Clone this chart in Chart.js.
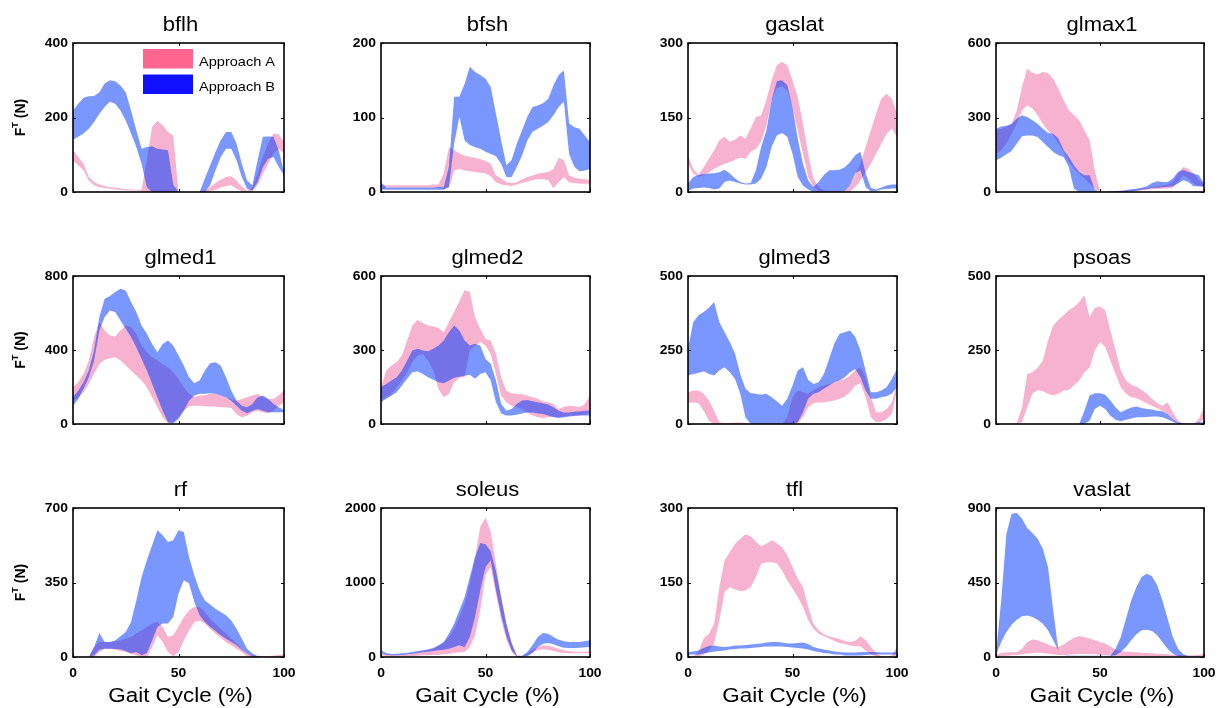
<!DOCTYPE html>
<html>
<head>
<meta charset="utf-8">
<script src="https://cdn.jsdelivr.net/npm/chart.js@4.4.1/dist/chart.umd.min.js"></script>
<style>
  html, body { margin: 0; padding: 0; background: #fff; width: 1223px; height: 708px; overflow: hidden; }
  #fig { position: relative; width: 1223px; height: 708px; }
  #fig canvas { position: absolute; }
</style>
</head>
<body>
<div id="fig"></div>
<script>
// Gait cycle sample points (%)
const gaitPct = [0,2.5,5,7.5,10,12.5,15,17.5,20,22.5,25,27.5,30,32.5,35,37.5,40,42.5,45,47.5,50,52.5,55,57.5,60,62.5,65,67.5,70,72.5,75,77.5,80,82.5,85,87.5,90,92.5,95,97.5,100];
const xTickValues = [0, 50, 100];
const seriesNames = ['Approach A', 'Approach B'];
const muscles = ['bflh','bfsh','gaslat','glmax1','glmed1','glmed2','glmed3','psoas','rf','soleus','tfl','vaslat'];

// y tick labels per muscle (N)
const bflhTicks = [0, 200, 400];
const bfshTicks = [0, 100, 200];
const gaslatTicks = [0, 150, 300];
const glmax1Ticks = [0, 300, 600];
const glmed1Ticks = [0, 400, 800];
const glmed2Ticks = [0, 300, 600];
const glmed3Ticks = [0, 250, 500];
const psoasTicks = [0, 250, 500];
const rfTicks = [0, 350, 700];
const soleusTicks = [0, 1000, 2000];
const tflTicks = [0, 150, 300];
const vaslatTicks = [0, 450, 900];

// Tendon force envelopes (lower / upper bound, N), Approach A and Approach B
const bflhAlo = [85,72,58,31,18,13,11,9,7,6,5,4,4,3,0,0,0,0,0,0,0,0,0,0,0,0,2,6,12,16,18,9,2,0,3,18,49,76,103,116,103];
const bflhAhi = [112,94,76,40,27,20,16,13,12,10,8,7,6,6,85,175,191,179,161,152,0,0,0,0,0,4,13,24,33,40,42,31,15,3,13,49,94,130,157,155,134];
const bflhBlo = [140,148,157,170,188,210,228,242,237,219,192,157,121,76,13,0,0,0,0,0,0,0,0,0,0,0,18,58,94,116,116,85,40,9,4,27,67,89,94,67,45];
const bflhBhi = [219,237,253,257,258,268,291,300,297,286,268,219,166,116,121,123,116,114,112,20,0,0,0,0,0,36,72,107,139,161,161,130,76,31,18,85,148,149,148,112,54];

const bfshAlo = [3,6,6,6,6,6,6,6,6,6,6,6,4,6,29,31,29,28,27,26,25,21,13,10,9,8,10,12,14,16,17,17,16,5,13,20,13,12,11,11,11];
const bfshAhi = [9,9,9,9,9,9,9,9,9,9,10,10,25,60,56,52,49,47,46,44,42,38,22,18,13,12,13,17,20,22,25,26,27,31,46,43,22,19,18,17,16];
const bfshBlo = [3,3,3,3,3,3,3,3,3,3,3,3,3,7,65,101,69,63,60,58,54,51,48,38,20,20,34,49,69,81,85,89,94,103,114,121,51,34,28,29,31];
const bfshBhi = [13,6,6,6,6,6,6,6,6,6,6,7,6,34,128,128,145,168,161,157,152,141,105,69,36,43,65,83,101,114,116,119,125,143,157,163,92,87,85,76,67];

const gaslatAlo = [57,37,30,34,40,47,52,57,60,65,69,67,81,87,101,134,185,210,213,205,171,124,77,30,10,2,0,0,0,0,0,1,10,23,40,57,77,97,117,128,111];
const gaslatAhi = [74,47,34,50,67,84,104,111,101,105,114,107,128,151,154,185,225,255,262,255,225,191,138,77,27,10,3,0,0,0,2,13,34,57,91,124,158,188,198,188,158];
const gaslatBlo = [2,7,8,9,8,5,7,20,23,20,17,15,15,17,27,50,91,114,119,111,77,30,13,5,0,0,0,0,0,0,2,13,37,44,10,1,2,5,6,7,7];
const gaslatBhi = [17,30,34,36,37,38,40,45,37,27,20,17,18,44,91,124,185,223,225,215,171,107,57,23,10,20,34,44,44,45,50,60,74,81,37,8,5,9,13,15,15];

const glmax1Alo = [154,168,195,235,275,329,349,336,309,275,248,228,195,161,121,94,74,54,36,13,0,0,0,0,0,1,3,5,7,9,11,12,13,14,17,40,67,54,34,23,20];
const glmax1Ahi = [248,255,262,272,329,423,497,479,474,483,479,456,416,369,329,309,289,248,208,87,0,0,1,2,3,5,7,10,13,16,20,23,27,30,40,74,101,94,74,47,34];
const glmax1Blo = [128,138,152,165,195,224,228,228,221,201,181,161,148,141,101,13,0,0,0,0,0,0,0,0,0,0,3,5,9,12,16,17,19,20,23,34,47,40,23,23,23];
const glmax1Bhi = [255,264,267,275,295,309,302,289,275,255,238,235,215,168,141,107,81,67,67,9,0,1,3,4,5,8,11,13,17,23,36,43,40,40,54,81,90,81,74,67,34];

const glmed1Alo = [126,144,172,217,271,325,347,356,361,343,316,289,262,235,199,144,90,36,4,9,36,72,94,99,99,96,94,94,90,90,87,54,36,45,63,72,63,58,72,99,117];
const glmed1Ahi = [199,226,271,343,470,551,506,479,473,506,533,524,488,424,388,361,343,325,307,280,244,199,163,144,154,154,163,163,154,144,135,126,135,144,154,163,144,135,135,154,181];
const glmed1Blo = [99,135,190,253,343,506,578,614,605,560,515,470,415,352,289,217,144,72,9,4,27,72,126,154,163,163,166,163,154,144,126,99,72,58,72,81,72,63,63,63,63];
const glmed1Bhi = [144,181,226,289,397,578,677,692,713,731,722,659,605,533,488,433,388,433,452,424,370,316,253,220,235,289,329,334,316,253,181,126,99,90,108,144,154,135,108,90,76];

const glmed2Alo = [95,108,122,149,176,210,250,278,284,257,217,142,108,122,169,187,190,298,318,332,318,284,203,115,88,74,68,61,47,34,27,24,27,30,27,30,32,34,34,37,47];
const glmed2Ahi = [149,217,237,250,278,339,399,422,409,399,395,390,372,413,454,498,542,535,433,386,345,339,284,190,135,125,122,122,115,108,102,92,88,81,61,70,74,72,68,81,115];
const glmed2Blo = [88,102,115,129,156,183,210,214,203,190,179,169,165,176,187,192,196,200,183,203,210,176,88,43,34,34,38,43,47,47,43,41,34,27,24,27,30,32,34,34,34];
const glmed2Bhi = [149,162,176,190,217,257,298,305,298,295,305,318,339,372,399,379,339,318,325,318,264,244,176,81,54,61,81,95,97,92,88,84,79,68,54,47,47,50,51,54,54];

const glmed3Alo = [73,73,70,45,11,0,0,0,0,0,0,0,0,0,0,0,0,0,0,0,0,2,23,56,70,73,73,76,79,85,93,107,130,138,90,23,6,8,17,34,113];
const glmed3Ahi = [107,113,113,102,79,45,6,3,3,5,5,3,0,0,0,0,0,0,0,23,90,113,107,102,113,124,130,135,141,147,152,164,181,192,158,90,40,40,51,73,135];
const glmed3Blo = [164,169,172,178,169,164,181,192,175,152,102,23,0,0,0,0,0,0,0,0,0,6,40,85,102,107,119,130,141,147,158,175,186,158,113,85,85,90,94,102,124];
const glmed3Bhi = [254,344,367,378,393,412,344,310,277,237,169,119,104,102,99,102,90,77,62,85,130,181,192,149,135,141,169,220,271,305,310,316,295,248,181,107,107,113,124,152,186];

const psoasAlo = [0,0,0,0,0,6,56,102,115,111,102,96,102,113,115,130,147,175,190,248,277,260,214,169,124,102,90,87,79,70,62,53,45,34,17,6,0,0,0,2,17];
const psoasAhi = [0,0,0,0,2,56,169,175,190,214,282,333,352,367,384,395,412,435,361,393,397,384,316,248,181,147,133,126,115,102,85,70,62,73,40,11,2,0,0,17,56];
const psoasBlo = [0,0,0,0,0,0,0,0,0,0,0,0,0,0,0,0,0,0,11,51,62,51,28,14,9,14,19,23,23,24,25,25,23,16,8,0,0,0,0,2,2];
const psoasBhi = [0,0,0,0,0,0,0,0,0,0,0,0,0,0,0,0,0,45,96,104,104,99,79,56,40,48,56,59,54,51,49,45,43,34,17,6,2,2,2,6,6];

const rfAlo = [0,0,0,0,0,23,39,39,34,28,23,16,8,0,0,47,102,70,23,3,23,78,125,164,172,157,133,110,91,70,55,39,23,3,0,0,0,0,0,0,0];
const rfAhi = [0,0,0,0,47,70,70,70,74,78,86,94,110,125,141,157,164,141,94,102,141,188,219,235,235,211,180,157,133,110,86,63,39,16,8,6,5,5,6,9,13];
const rfBlo = [0,0,0,0,8,34,39,39,38,36,28,16,23,8,19,78,141,157,157,188,298,360,345,258,196,164,141,122,102,86,70,55,34,16,3,0,0,0,0,0,0];
const rfBhi = [0,0,0,0,47,113,70,70,78,97,117,164,266,376,454,525,595,572,540,548,595,587,470,384,313,266,247,227,211,196,172,133,86,39,16,3,0,0,0,0,6];

const soleusAlo = [22,13,9,9,9,13,13,18,22,22,27,31,36,45,54,63,67,134,291,626,1096,1208,850,500,230,70,2,0,22,63,89,103,98,80,63,54,49,49,49,49,49];
const soleusAhi = [54,36,27,27,31,40,49,63,76,89,112,143,188,268,380,537,716,984,1342,1745,1870,1678,1250,800,430,190,25,9,45,98,134,157,152,134,112,89,80,72,72,72,76];
const soleusBlo = [54,31,22,22,27,36,45,54,63,72,80,89,98,112,134,157,134,268,537,895,1208,1297,900,560,280,90,5,0,9,54,134,179,188,170,143,125,121,121,125,130,134];
const soleusBhi = [89,54,40,45,49,58,67,80,89,103,121,157,201,313,447,626,805,1074,1342,1530,1512,1420,1150,800,450,180,15,18,67,157,268,322,313,268,233,210,201,201,201,210,224];

const tflAlo = [0,0,1,5,13,27,74,131,141,136,133,134,141,161,188,191,191,189,174,154,138,121,101,74,57,47,42,37,32,28,26,23,22,21,13,5,1,0,0,0,3];
const tflAhi = [0,1,10,37,47,67,141,195,211,228,238,247,243,232,223,228,235,229,221,205,181,158,141,101,67,54,46,42,39,36,32,30,32,42,34,20,8,1,0,3,20];
const tflBlo = [5,5,5,7,9,11,12,13,15,16,17,17,18,19,20,21,21,21,21,20,19,18,17,15,12,10,8,7,5,5,3,3,3,3,4,5,5,5,5,5,5];
const tflBhi = [10,11,13,18,22,23,21,20,21,23,23,24,25,26,27,29,30,30,29,27,27,28,29,26,20,17,15,13,11,10,9,9,9,10,10,10,10,9,9,9,10];

const vaslatAlo = [2,6,8,10,12,16,20,24,26,24,20,16,12,12,14,16,18,18,16,16,14,12,10,8,6,4,4,4,4,4,4,4,4,4,4,4,4,4,4,4,4];
const vaslatAhi = [10,24,28,28,28,50,91,105,101,89,76,64,60,76,97,117,125,121,111,101,91,81,64,44,36,32,30,28,26,24,22,20,18,16,14,12,10,10,10,12,20];
const vaslatBlo = [10,91,151,195,225,246,250,242,225,201,161,101,40,10,4,4,4,4,4,4,4,4,4,10,30,60,101,137,161,165,157,131,91,50,20,6,2,2,2,2,2];
const vaslatBhi = [20,342,745,866,870,835,779,749,715,654,544,282,40,10,8,8,8,8,8,8,8,8,8,50,121,231,342,423,483,503,487,433,342,231,121,50,16,4,4,4,4];

// Lookup table assembled from the arrays above
const panels = {
  bflh:   { ticks: bflhTicks,   A: [bflhAlo, bflhAhi],     B: [bflhBlo, bflhBhi] },
  bfsh:   { ticks: bfshTicks,   A: [bfshAlo, bfshAhi],     B: [bfshBlo, bfshBhi] },
  gaslat: { ticks: gaslatTicks, A: [gaslatAlo, gaslatAhi], B: [gaslatBlo, gaslatBhi] },
  glmax1: { ticks: glmax1Ticks, A: [glmax1Alo, glmax1Ahi], B: [glmax1Blo, glmax1Bhi] },
  glmed1: { ticks: glmed1Ticks, A: [glmed1Alo, glmed1Ahi], B: [glmed1Blo, glmed1Bhi] },
  glmed2: { ticks: glmed2Ticks, A: [glmed2Alo, glmed2Ahi], B: [glmed2Blo, glmed2Bhi] },
  glmed3: { ticks: glmed3Ticks, A: [glmed3Alo, glmed3Ahi], B: [glmed3Blo, glmed3Bhi] },
  psoas:  { ticks: psoasTicks,  A: [psoasAlo, psoasAhi],   B: [psoasBlo, psoasBhi] },
  rf:     { ticks: rfTicks,     A: [rfAlo, rfAhi],         B: [rfBlo, rfBhi] },
  soleus: { ticks: soleusTicks, A: [soleusAlo, soleusAhi], B: [soleusBlo, soleusBhi] },
  tfl:    { ticks: tflTicks,    A: [tflAlo, tflAhi],       B: [tflBlo, tflBhi] },
  vaslat: { ticks: vaslatTicks, A: [vaslatAlo, vaslatAhi], B: [vaslatBlo, vaslatBhi] }
};

// Page geometry (plot-area edges in page pixels)
const colLeft = [73, 381, 688, 996];
const colRight = [284, 590, 897, 1204];
const rowTop = [43, 276, 508];
const rowBottom = [192, 424, 657];
const PAD = { left: 72, right: 14, top: 44, bottom: 52 };

const FONT = '"Liberation Sans", Arial, Helvetica, sans-serif';
const fillA = 'rgba(239,115,166,0.55)';
const fillB = 'rgba(0,53,255,0.52)';
const swatchA = 'rgb(255,102,143)';
const swatchB = 'rgb(16,16,255)';

// Text drawn with a slight horizontal stretch (sx)
function drawText(ctx, text, x, y, align, font, baseline, sx) {
  sx = sx || 1.1;
  ctx.save();
  ctx.font = font;
  ctx.textBaseline = baseline || 'alphabetic';
  ctx.textAlign = 'left';
  const w = ctx.measureText(text).width * sx;
  const x0 = align === 'center' ? x - w / 2 : align === 'right' ? x - w : x;
  ctx.translate(x0, y);
  ctx.scale(sx, 1);
  ctx.fillStyle = '#000';
  ctx.fillText(text, 0, 0);
  ctx.restore();
}

const panelPlugin = {
  id: 'panel',
  beforeDatasetsDraw(chart, args, opts) {
    const { ctx, chartArea: a, scales: { x, y } } = chart;
    ctx.save();
    ctx.strokeStyle = '#000';
    ctx.lineWidth = 1;
    ctx.beginPath();
    opts.yTicks.forEach(v => {
      const py = Math.round(y.getPixelForValue(v)) + 0.5;
      ctx.moveTo(a.left, py); ctx.lineTo(a.left + 3, py);
      ctx.moveTo(a.right, py); ctx.lineTo(a.right - 3, py);
    });
    xTickValues.forEach(v => {
      const px = Math.round(x.getPixelForValue(v)) + 0.5;
      ctx.moveTo(px, a.top); ctx.lineTo(px, a.top + 3);
      ctx.moveTo(px, a.bottom); ctx.lineTo(px, a.bottom - 3);
    });
    ctx.stroke();
    ctx.restore();
  },
  afterDatasetsDraw(chart, args, opts) {
    const { ctx, chartArea: a, scales: { x, y } } = chart;
    ctx.save();
    // axes box
    ctx.strokeStyle = '#000';
    ctx.lineWidth = 1.6;
    ctx.strokeRect(a.left, a.top, a.right - a.left, a.bottom - a.top);
    ctx.restore();

    // panel title
    drawText(ctx, opts.title, (a.left + a.right) / 2 + 2, a.top - 12, 'center', '20px ' + FONT, 'alphabetic', 1.1);

    // y tick labels
    opts.yTicks.forEach(v => {
      drawText(ctx, String(v), a.left - 5, y.getPixelForValue(v), 'right', 'bold 13px ' + FONT, 'middle', 1.07);
    });

    // x tick labels + axis title on the bottom row
    if (opts.showX) {
      xTickValues.forEach(v => {
        drawText(ctx, String(v), x.getPixelForValue(v), a.bottom + 16, 'center', 'bold 13px ' + FONT, 'middle', 1.07);
      });
      drawText(ctx, 'Gait Cycle (%)', (a.left + a.right) / 2 + 2, a.bottom + 45, 'center', '20px ' + FONT, 'alphabetic', 1.12);
    }

    // y axis title, F with superscript T
    if (opts.showY) {
      const big = 'bold 14px ' + FONT, small = 'bold 9px ' + FONT;
      ctx.save();
      ctx.translate(a.left - 48, (a.top + a.bottom) / 2);
      ctx.rotate(-Math.PI / 2);
      ctx.fillStyle = '#000';
      ctx.textBaseline = 'alphabetic';
      ctx.font = big; const wF = ctx.measureText('F').width;
      ctx.font = small; const wT = ctx.measureText('T').width;
      ctx.font = big; const wN = ctx.measureText(' (N)').width;
      let sx = -(wF + wT + wN) / 2;
      ctx.font = big; ctx.fillText('F', sx, 0); sx += wF;
      ctx.font = small; ctx.fillText('T', sx, -7); sx += wT;
      ctx.font = big; ctx.fillText(' (N)', sx, 0);
      ctx.restore();
    }

    // legend inside the first panel
    if (opts.showLegend) {
      const entries = [[seriesNames[0], swatchA], [seriesNames[1], swatchB]];
      entries.forEach((e, i) => {
        const top = a.top + 6 + i * 25.5;
        ctx.fillStyle = e[1];
        ctx.fillRect(a.right - 141, top, 50, 19.5);
        drawText(ctx, e[0], a.right - 85, top + 13, 'left', '13px ' + FONT, 'middle', 1.12);
      });
    }
  }
};

const fig = document.getElementById('fig');

muscles.forEach((name, idx) => {
  const r = Math.floor(idx / 4), c = idx % 4;
  const p = panels[name];
  const w = (colRight[c] - colLeft[c]) + PAD.left + PAD.right;
  const h = (rowBottom[r] - rowTop[r]) + PAD.top + PAD.bottom;
  const cv = document.createElement('canvas');
  cv.width = w; cv.height = h;
  cv.style.width = w + 'px'; cv.style.height = h + 'px';
  cv.style.left = (colLeft[c] - PAD.left) + 'px';
  cv.style.top = (rowTop[r] - PAD.top) + 'px';
  fig.appendChild(cv);

  const pts = arr => gaitPct.map((g, i) => ({ x: g, y: arr[i] }));
  const band = (arr, extra) => Object.assign({
    data: pts(arr), borderWidth: 0, borderColor: 'rgba(0,0,0,0)',
    pointRadius: 0, tension: 0, fill: false
  }, extra);

  new Chart(cv, {
    type: 'line',
    data: {
      datasets: [
        band(p.B[0], { label: seriesNames[1] + ' lower' }),
        band(p.B[1], { label: seriesNames[1], fill: '-1', backgroundColor: fillB }),
        band(p.A[0], { label: seriesNames[0] + ' lower' }),
        band(p.A[1], { label: seriesNames[0], fill: '-1', backgroundColor: fillA })
      ]
    },
    options: {
      responsive: false,
      animation: false,
      devicePixelRatio: 1,
      layout: { padding: PAD },
      scales: {
        x: { type: 'linear', min: 0, max: 100, display: false },
        y: { type: 'linear', min: 0, max: p.ticks[p.ticks.length - 1], display: false }
      },
      plugins: {
        legend: { display: false },
        tooltip: { enabled: false },
        title: { display: false },
        panel: {
          title: name,
          yTicks: p.ticks,
          showX: r === 2,
          showY: c === 0,
          showLegend: idx === 0
        }
      }
    },
    plugins: [panelPlugin]
  });
});
</script>
</body>
</html>
